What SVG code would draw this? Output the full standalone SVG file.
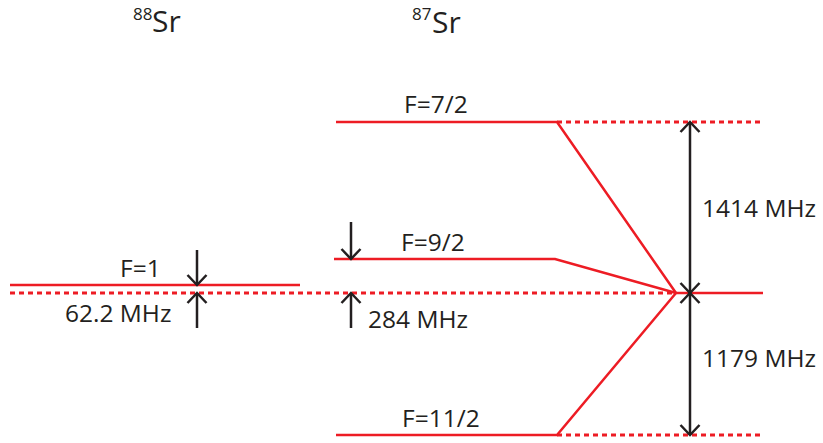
<svg xmlns="http://www.w3.org/2000/svg" width="823" height="443" viewBox="0 0 823 443">
<style>
text{font-family:"Open Sans","Noto Sans","Liberation Sans",sans-serif;fill:#231F20;font-size:24.5px}
.title{font-size:30px}
.sup{font-size:17px}
.lvl{fill:none;stroke:#ED1C24;stroke-width:2.5}
.dash{fill:none;stroke:#ED1C24;stroke-width:2.8;stroke-dasharray:5 4}
.arr{fill:none;stroke:#231F20;stroke-width:2.5;marker-end:url(#chev)}
.arr2{fill:none;stroke:#231F20;stroke-width:2.5;marker-start:url(#chev);marker-end:url(#chev)}
</style>
<defs>
<marker id="chev" markerUnits="userSpaceOnUse" viewBox="-14 -14 28 28" markerWidth="28" markerHeight="28" refX="0" refY="0" orient="auto-start-reverse">
<path d="M-10,-9.5 L0,0 L-10,9.5" fill="none" stroke="#231F20" stroke-width="2.5"/>
</marker>
</defs>
<g id="titles">
<text x="133" y="19.5" class="sup">88</text><text x="152" y="32" class="title">Sr</text>
<text x="412" y="19.5" class="sup">87</text><text x="432" y="32.5" class="title">Sr</text>
</g>
<g id="reference-level">
<line class="dash" x1="10" y1="293" x2="676" y2="293"/>
</g>
<g id="sr88-F1">
<line class="lvl" x1="10" y1="285" x2="300" y2="285"/>
<text x="120" y="277">F=1</text>
</g>
<g id="sr87-F7-2">
<polyline class="lvl" points="336,122 557,122 676,293"/>
<line class="dash" x1="557" y1="122" x2="763" y2="122"/>
<text x="404" y="113">F=7/2</text>
</g>
<g id="sr87-F9-2">
<polyline class="lvl" points="334,259 555,259 676,293"/>
<text x="401" y="251">F=9/2</text>
</g>
<g id="sr87-F11-2">
<polyline class="lvl" points="336,435 557,435 676,293"/>
<line class="dash" x1="557" y1="435" x2="763" y2="435"/>
<text x="402" y="427">F=11/2</text>
</g>
<g id="sr87-centroid">
<line class="lvl" x1="676" y1="293" x2="763" y2="293"/>
</g>
<g id="connectors">
<line class="arr" x1="197" y1="250" x2="197" y2="285"/>
<line class="arr" x1="197" y1="328" x2="197" y2="293"/>
<line class="arr" x1="351" y1="222" x2="351" y2="259"/>
<line class="arr" x1="351" y1="328" x2="351" y2="293"/>
<line class="arr2" x1="690" y1="122" x2="690" y2="293"/>
<line class="arr2" x1="690" y1="293" x2="690" y2="435"/>
</g>
<g id="labels">
<text x="65" y="322">62.2 MHz</text>
<text x="368" y="328">284 MHz</text>
<text x="702" y="217">1414 MHz</text>
<text x="702" y="367">1179 MHz</text>
</g>
</svg>
